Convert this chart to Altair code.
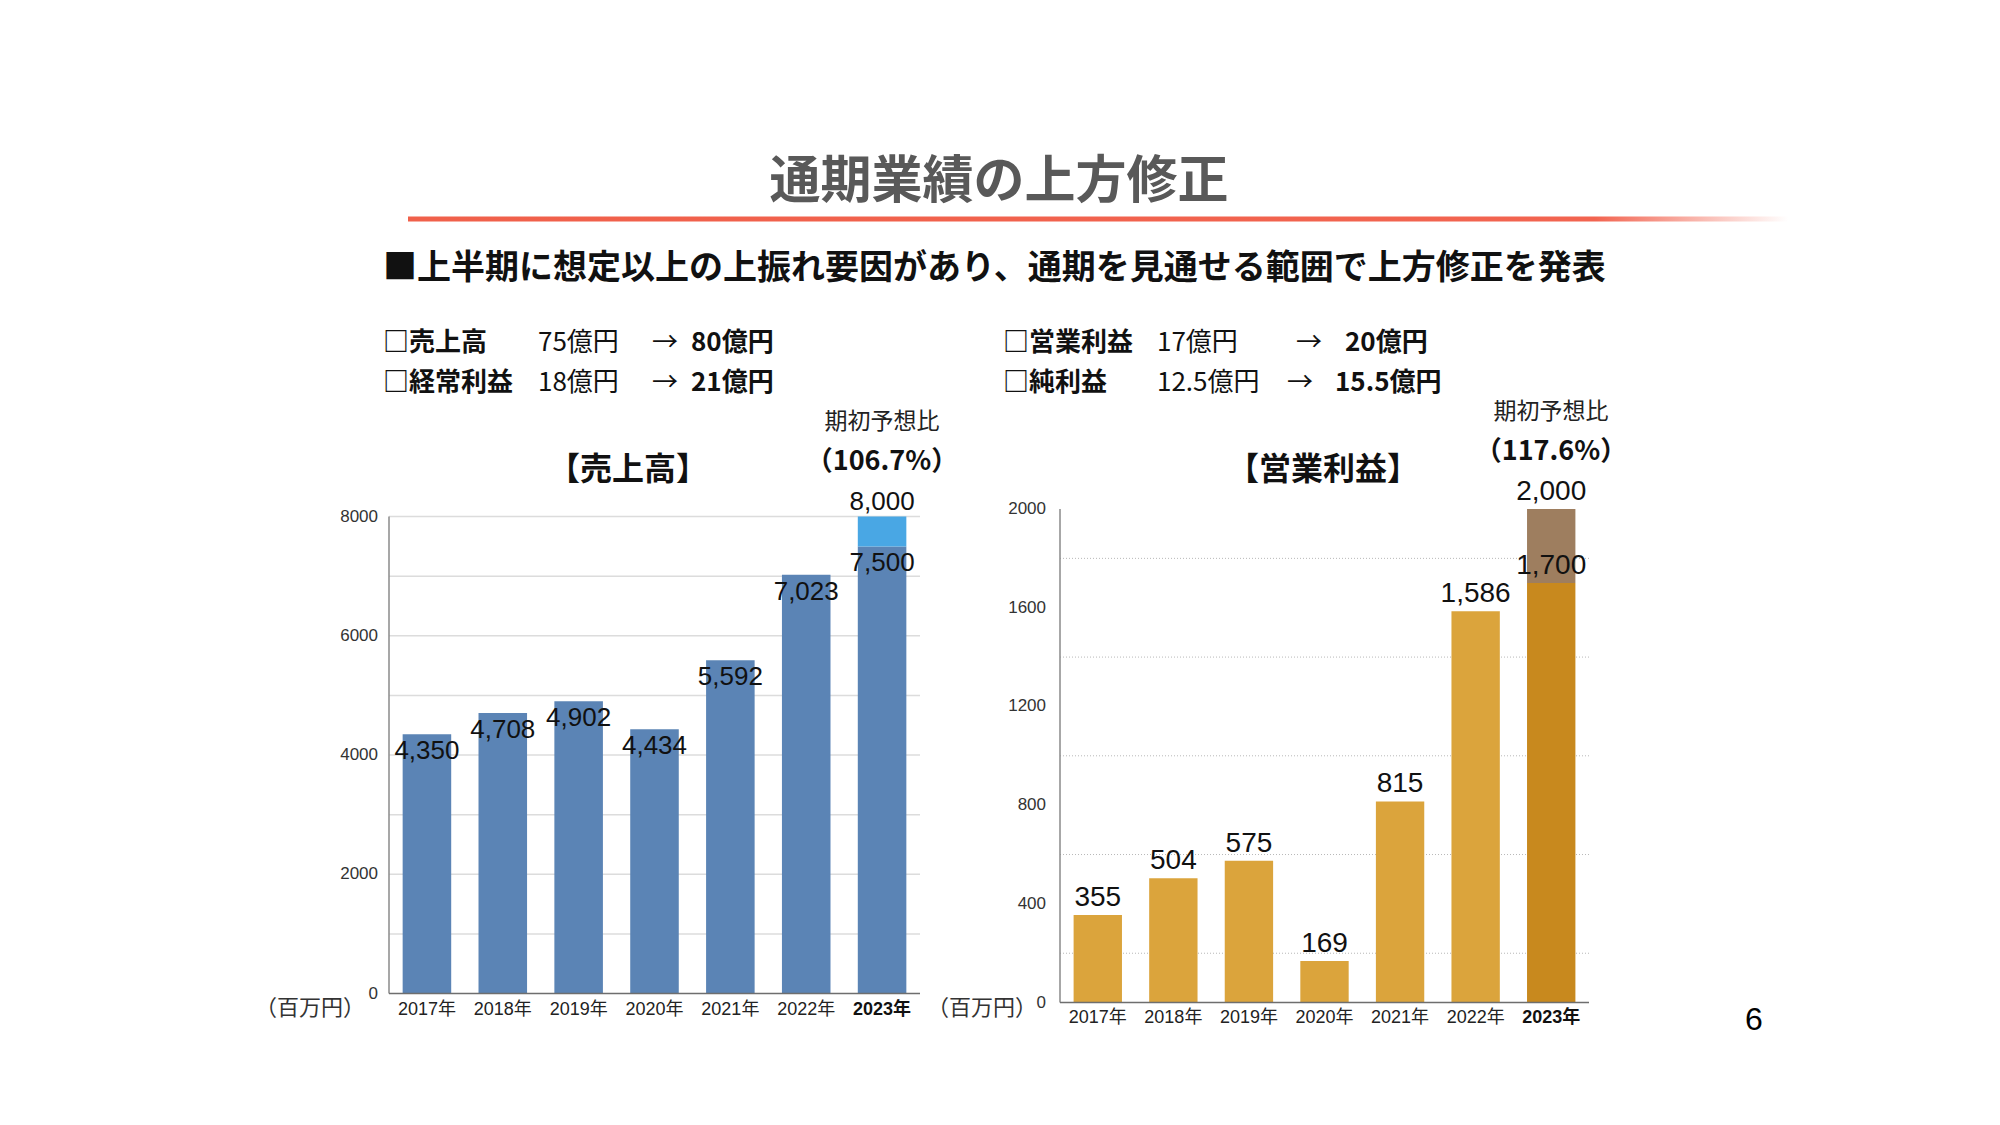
import altair as alt
import pandas as pd

# ---------------- data ----------------
years = ["2017年", "2018年", "2019年", "2020年", "2021年", "2022年", "2023年"]
sales_actual = [4350, 4708, 4902, 4434, 5592, 7023]
sales_plan_2023 = 7500
sales_revised_2023 = 8000
op_actual = [355, 504, 575, 169, 815, 1586]
op_plan_2023 = 1700
op_revised_2023 = 2000
parts = ["実績", "期初予想", "上方修正"]

sales_ticks = [0, 2000, 4000, 6000, 8000]
sales_grid = [1000, 2000, 3000, 4000, 5000, 6000, 7000, 8000]
op_ticks = [0, 400, 800, 1200, 1600, 2000]
op_grid = [200, 600, 1000, 1400, 1800]

title_text = ["通期業績の上方修正"]
subtitle_text = ["■上半期に想定以上の上振れ要因があり、通期を見通せる範囲で上方修正を発表"]
row_labels = ["□売上高", "□経常利益", "□営業利益", "□純利益"]
row_before = ["75億円", "18億円", "17億円", "12.5億円"]
row_after = ["80億円", "21億円", "20億円", "15.5億円"]
arrow = ["→"]
chart_titles = ["【売上高】", "【営業利益】"]
ratio_head = ["期初予想比"]
ratio_values = ["（106.7%）", "（117.6%）"]
unit_label = ["（百万円）"]
page_no = ["6"]

CJK = "Noto Sans CJK JP"
NUM = "Liberation Sans Narrow, Liberation Sans, Noto Sans CJK JP, sans-serif"


def bars_frame(actual, plan, revised):
    rows = [{"year": y, "start": 0, "end": v, "part": parts[0]} for y, v in zip(years[:-1], actual)]
    rows.append({"year": years[-1], "start": 0, "end": plan, "part": parts[1]})
    rows.append({"year": years[-1], "start": plan, "end": revised, "part": parts[2]})
    return pd.DataFrame(rows)


def xs(rng):
    return alt.Scale(type="band", domain=years, range=rng, paddingInner=0.36, paddingOuter=0.18)


def ys(dom, rng):
    return alt.Scale(domain=dom, range=rng, nice=False, zero=True)


def one(t):
    return pd.DataFrame({"t": t})


def text_at(t, x, y, size, weight="normal", font=CJK, align="left", color="#111111", baseline="middle"):
    return alt.Chart(one(t)).mark_text(
        font=font, fontSize=size, fontWeight=weight, align=align, baseline=baseline, color=color
    ).encode(x=alt.value(x), y=alt.value(y), text="t:N")


def bar_panel(actual, plan, revised, xr, ydom, yr, colors, grid, ticks, grid_style,
              label_size, inside_labels, tick_x, year_y):
    df = bars_frame(actual, plan, revised)
    X = alt.X("year:N", scale=xs(xr), axis=None)
    Y = alt.Y("end:Q", scale=ys(ydom, yr), axis=None)
    layers = []
    # grid
    grid_df = pd.DataFrame({"v": grid})
    layers.append(alt.Chart(grid_df).mark_rule(**grid_style).encode(
        y=alt.Y("v:Q", scale=ys(ydom, yr), axis=None),
        x=alt.value(xr[0]), x2=alt.value(xr[1])))
    # bars
    layers.append(alt.Chart(df).mark_bar().encode(
        x=X, y=Y, y2="start:Q",
        color=alt.Color("part:N", scale=alt.Scale(domain=parts, range=colors), legend=None)))
    # axes lines
    layers.append(alt.Chart(one([0])).mark_rule(color="#8a8a8a", strokeWidth=1.5).encode(
        x=alt.value(xr[0]), y=alt.value(yr[1]), y2=alt.value(yr[0])))
    layers.append(alt.Chart(one([0])).mark_rule(color="#6e6e6e", strokeWidth=1.5).encode(
        x=alt.value(xr[0]), x2=alt.value(xr[1]), y=alt.value(yr[0])))
    # tick labels
    layers.append(alt.Chart(pd.DataFrame({"v": ticks})).mark_text(
        font=NUM, fontSize=17, align="right", baseline="middle", color="#333333").encode(
        y=alt.Y("v:Q", scale=ys(ydom, yr), axis=None), x=alt.value(tick_x),
        text=alt.Text("v:Q", format="d")))
    # year labels
    ydf = pd.DataFrame({"year": years})
    layers.append(alt.Chart(ydf).transform_filter(alt.datum.year != years[-1]).mark_text(
        font=NUM, fontSize=18, baseline="middle", color="#222222").encode(
        x=alt.X("year:N", scale=xs(xr), axis=None), y=alt.value(year_y), text="year:N"))
    layers.append(alt.Chart(ydf).transform_filter(alt.datum.year == years[-1]).mark_text(
        font=NUM, fontSize=18, fontWeight="bold", baseline="middle", color="#111111").encode(
        x=alt.X("year:N", scale=xs(xr), axis=None), y=alt.value(year_y), text="year:N"))
    # value labels
    if inside_labels:
        layers.append(alt.Chart(df).transform_filter(alt.datum.part != parts[2]).mark_text(
            font=NUM, fontSize=label_size, baseline="top", dy=4, color="#111111").encode(
            x=X, y=Y, text=alt.Text("end:Q", format=",")))
        layers.append(alt.Chart(df).transform_filter(alt.datum.part == parts[2]).mark_text(
            font=NUM, fontSize=label_size, baseline="bottom", dy=-2, color="#111111").encode(
            x=X, y=Y, text=alt.Text("end:Q", format=",")))
    else:
        layers.append(alt.Chart(df).mark_text(
            font=NUM, fontSize=label_size, baseline="bottom", dy=-3, color="#111111").encode(
            x=X, y=Y, text=alt.Text("end:Q", format=",")))
    return layers


left = bar_panel(sales_actual, sales_plan_2023, sales_revised_2023,
                 [381, 912], [0, 8000], [985.6, 508.6],
                 ["#5B84B5", "#5B84B5", "#49A7E4"], sales_grid, sales_ticks,
                 dict(color="#dcdcdc", strokeWidth=1.5), 26, True, 370, 1002)
right = bar_panel(op_actual, op_plan_2023, op_revised_2023,
                  [1052, 1581], [0, 2000], [994.6, 501],
                  ["#DBA43C", "#C8891E", "#9E7E5F"], op_grid, op_ticks,
                  dict(color="#b8b8b8", strokeWidth=1, strokeDash=[1, 2]), 28, False, 1038, 1010)

line_df = one([0])
red_line = alt.Chart(line_df).mark_rect(
    fill=alt.Gradient(gradient="linear", x1=0, x2=1, y1=0, y2=0,
                      stops=[alt.GradientStop(color="#F0604A", offset=0),
                             alt.GradientStop(color="#F26450", offset=0.86),
                             alt.GradientStop(color="#ffffff", offset=1)])
).encode(x=alt.value(400), x2=alt.value(1780), y=alt.value(208.5), y2=alt.value(213.5))

deco = [
    text_at(title_text, 991, 175, 51, "bold", align="center", color="#595959"),
    red_line,
    text_at(subtitle_text, 375, 261, 34, "bold"),
    # summary rows (left)
    text_at(row_labels[0:1], 375, 335, 26, "bold"),
    text_at(row_before[0:1], 530, 335, 26),
    text_at(arrow, 644, 335, 26),
    text_at(row_after[0:1], 683, 335, 26, "bold"),
    text_at(row_labels[1:2], 375, 375, 26, "bold"),
    text_at(row_before[1:2], 530, 375, 26),
    text_at(arrow, 644, 375, 26),
    text_at(row_after[1:2], 683, 375, 26, "bold"),
    # summary rows (right)
    text_at(row_labels[2:3], 995, 335, 26, "bold"),
    text_at(row_before[2:3], 1149, 335, 26),
    text_at(arrow, 1288, 335, 26),
    text_at(row_after[2:3], 1337, 335, 26, "bold"),
    text_at(row_labels[3:4], 995, 375, 26, "bold"),
    text_at(row_before[3:4], 1149, 375, 26),
    text_at(arrow, 1279, 375, 26),
    text_at(row_after[3:4], 1327, 375, 26, "bold"),
    # chart titles
    text_at(chart_titles[0:1], 620, 462, 32, "bold", align="center"),
    text_at(chart_titles[1:2], 1315, 462, 32, "bold", align="center"),
    text_at(ratio_head, 874, 414, 23, align="center", color="#222222"),
    text_at(ratio_values[0:1], 874, 454, 27, "bold", align="center"),
    text_at(ratio_head, 1543, 404, 23, align="center", color="#222222"),
    text_at(ratio_values[1:2], 1543, 444, 27, "bold", align="center"),
    text_at(unit_label, 302, 1000, 22, align="center", color="#333333"),
    text_at(unit_label, 974, 1000, 22, align="center", color="#333333"),
    text_at(page_no, 1746, 1012, 32, font="Liberation Sans, sans-serif", align="center", color="#000000"),
]

chart = alt.layer(*(left + right + deco)).resolve_scale(
    x="independent", y="independent", color="independent"
).properties(
    width=1984, height=1109,
    autosize=alt.AutoSizeParams(type="none"),
    padding=0,
    background="#ffffff",
).configure_view(stroke=None)

chart.save("out.html", embed_options={"renderer": "svg", "actions": False})
